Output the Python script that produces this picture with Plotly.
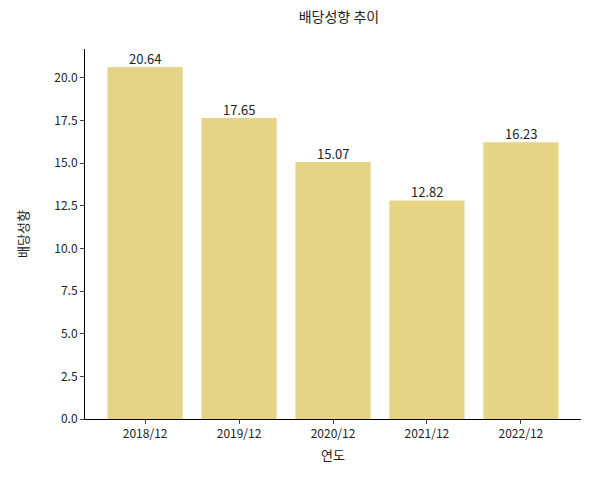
import plotly.graph_objects as go

years = ["2018/12", "2019/12", "2020/12", "2021/12", "2022/12"]
values = [20.64, 17.65, 15.07, 12.82, 16.23]
labels = [f"{v:.2f}" for v in values]

font = "Noto Sans CJK KR"
xs = list(range(len(years)))
fig = go.Figure(go.Bar(
    x=xs, y=values, width=0.8,
    marker=dict(color="#e5d485", line=dict(width=0))))
for x, v, t in zip(xs, values, labels):
    fig.add_annotation(x=x, y=v, text=t, showarrow=False, yanchor="bottom", yshift=-3,
                       font=dict(size=13, color="#222"))
fig.update_layout(
    width=591, height=479, margin=dict(l=77, r=18, t=41, b=68),
    plot_bgcolor="white", paper_bgcolor="white",
    font=dict(family=font, size=12, color="#222"),
    title=dict(text="배당성향 추이", x=0.56, xanchor="center", y=0.98, yanchor="middle",
               font=dict(size=14)),
    showlegend=False,
)
fig.update_xaxes(range=[-0.64, 4.64], tickvals=xs, ticktext=years,
                 showline=True, linecolor="black", ticks="outside", ticklen=4,
                 showgrid=False, zeroline=False, tickfont=dict(size=12),
                 title=dict(text="연도", font=dict(size=13), standoff=10))
fig.update_yaxes(range=[0, 21.7], tickvals=[0, 2.5, 5, 7.5, 10, 12.5, 15, 17.5, 20],
                 ticktext=["0.0", "2.5", "5.0", "7.5", "10.0", "12.5", "15.0", "17.5", "20.0"],
                 showline=True, linecolor="black", ticks="outside", ticklen=4,
                 showgrid=False, zeroline=False, tickfont=dict(size=12),
                 title=dict(text="배당성향", font=dict(size=13), standoff=22))
fig.write_html("out.html")
